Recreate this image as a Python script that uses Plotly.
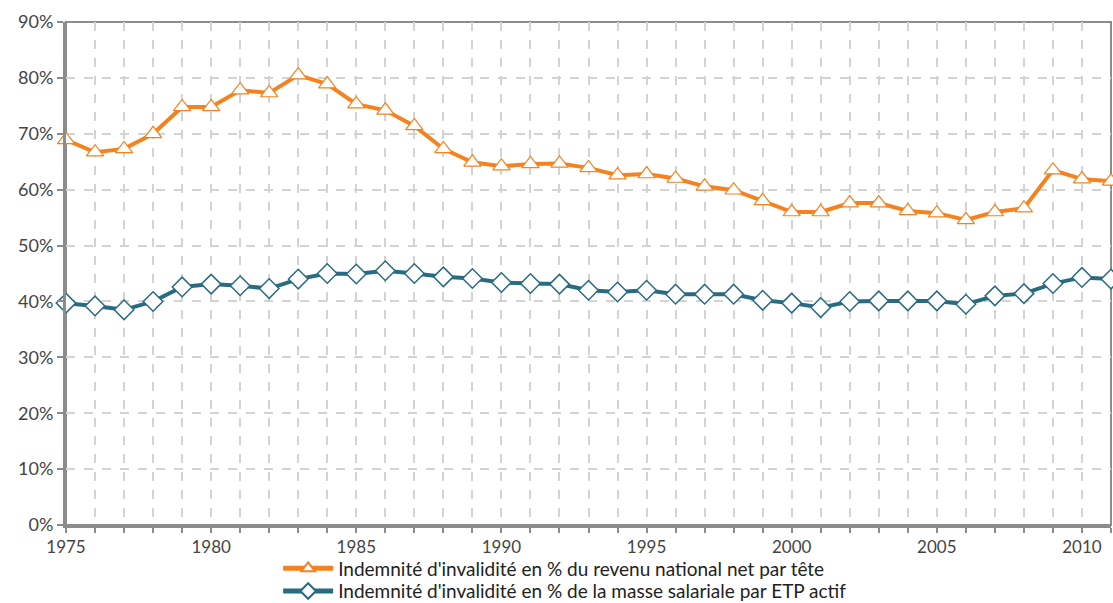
import plotly.graph_objects as go

years = list(range(1975, 2012))

# Indemnité en % du revenu national net par tête
revenu_national = [
    68.9, 66.7, 67.3, 70.0, 74.8, 74.8, 77.8, 77.3, 80.5, 78.9,
    75.3, 74.2, 71.4, 67.3, 64.9, 64.2, 64.6, 64.7, 63.9, 62.6,
    62.8, 62.0, 60.6, 59.9, 58.0, 56.0, 56.0, 57.6, 57.6, 56.2,
    55.8, 54.6, 56.0, 56.7, 63.5, 61.9, 61.5,
]

# Indemnité en % de la masse salariale par ETP actif
masse_salariale = [
    39.7, 39.2, 38.5, 40.0, 42.6, 43.1, 42.8, 42.3, 44.0, 45.0,
    44.9, 45.5, 45.0, 44.4, 44.1, 43.4, 43.2, 43.1, 42.0, 41.7,
    42.0, 41.3, 41.3, 41.3, 40.2, 39.7, 38.9, 40.0, 40.1, 40.1,
    40.1, 39.5, 41.0, 41.4, 43.2, 44.3, 44.0,
]

series_names = [
    "Indemnité d'invalidité en % du revenu national net par tête",
    "Indemnité d'invalidité en % de la masse salariale par ETP actif",
]

y_ticks = list(range(0, 91, 10))
y_ticklabels = [f"{v}%" for v in y_ticks]
x_ticks = list(range(1975, 2012, 5))

ORANGE = "#F5821F"
TEAL = "#296B80"
GRID = "#D3D3D3"
AXIS = "#8C8C8C"
FONT = "Lato, 'Open Sans', sans-serif"

fig = go.Figure()
fig.add_trace(go.Scatter(
    x=years, y=revenu_national, name=series_names[0], mode="lines+markers",
    line=dict(color=ORANGE, width=4),
    marker=dict(symbol="triangle-up", size=15, color="white",
                line=dict(color=ORANGE, width=1.2)),
    cliponaxis=False, legend="legend",
))
fig.add_trace(go.Scatter(
    x=years, y=masse_salariale, name=series_names[1], mode="lines+markers",
    line=dict(color=TEAL, width=4),
    marker=dict(symbol="diamond", size=15, color="white",
                line=dict(color=TEAL, width=1.5)),
    cliponaxis=False, legend="legend2",
))

legend_common = dict(
    x=0.203, xanchor="left", yanchor="middle",
    font=dict(size=19, color="#222222", family=FONT),
    itemwidth=50, itemsizing="constant", bgcolor="rgba(0,0,0,0)",
    borderwidth=0,
)

fig.update_layout(
    width=1113, height=603,
    margin=dict(l=66, r=2, t=22, b=78, autoexpand=False),
    paper_bgcolor="white", plot_bgcolor="white",
    font=dict(family=FONT, color="#444444", size=18),
    showlegend=True,
    legend=dict(y=-0.0865, **legend_common),
    legend2=dict(y=-0.1315, **legend_common),
    xaxis=dict(
        range=[1975, 2011],
        tickmode="array", tickvals=x_ticks, ticktext=[str(v) for v in x_ticks],
        ticks="outside", ticklen=5, tickcolor=AXIS, tickwidth=1.5,
        showgrid=True, gridcolor=GRID, griddash="dash", gridwidth=1.5,
        minor=dict(dtick=1, tick0=1975, showgrid=True, gridcolor=GRID,
                   griddash="dash", gridwidth=1.5, ticks="outside",
                   ticklen=5, tickcolor=AXIS, tickwidth=1.5),
        showline=True, linecolor=AXIS, linewidth=3, mirror=False,
        zeroline=False, tickfont=dict(size=17, color="#444444"),
    ),
    yaxis=dict(
        range=[0, 90],
        tickmode="array", tickvals=y_ticks, ticktext=y_ticklabels,
        ticks="outside", ticklen=6, tickcolor=AXIS, tickwidth=1.5,
        showgrid=True, gridcolor=GRID, griddash="dash", gridwidth=1.5,
        showline=True, linecolor=AXIS, linewidth=3,
        zeroline=False, tickfont=dict(size=18, color="#444444"),
    ),
)

# thin frame on the top and right of the plotting area
fig.add_shape(type="rect", xref="paper", yref="paper", x0=0, y0=0, x1=1, y1=1,
              line=dict(color=AXIS, width=2), layer="below")

fig.write_html("out.html")
